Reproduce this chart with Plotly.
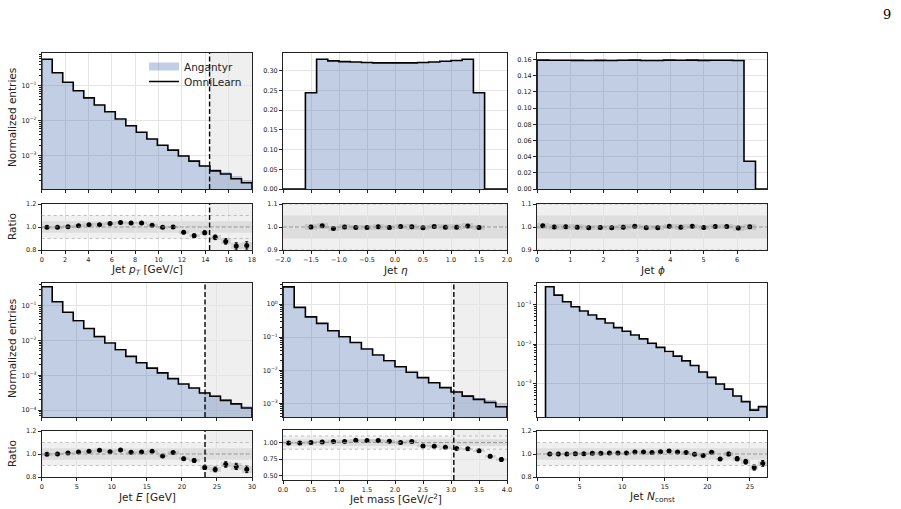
import numpy as np
import plotly.graph_objects as go

# ---------------- data ----------------
# Jet pT
pt_range = [0.0, 18.0]
pt_nbins = 20
pt_omnilearn = [0.57, 0.234, 0.125, 0.072, 0.045, 0.028, 0.018, 0.0112, 0.0072, 0.0047,
                0.0030, 0.0020, 0.00145, 0.00098, 0.00070, 0.00051, 0.00037, 0.00030, 0.00022, 0.00017]
pt_angantyr = [0.572, 0.235, 0.125, 0.0713, 0.0441, 0.0275, 0.0175, 0.0108, 0.00696, 0.00454,
               0.00296, 0.00201, 0.00145, 0.00103, 0.000757, 0.000537, 0.000407, 0.000343, 0.000263, 0.000202]
pt_ratio = [0.997, 0.997, 1.003, 1.010, 1.020, 1.020, 1.030, 1.040, 1.035, 1.035,
            1.015, 0.997, 1.000, 0.955, 0.925, 0.950, 0.910, 0.875, 0.835, 0.840]
pt_ratio_err = [0.003, 0.003, 0.003, 0.003, 0.004, 0.004, 0.005, 0.005, 0.006, 0.007,
                0.008, 0.009, 0.010, 0.013, 0.015, 0.017, 0.020, 0.024, 0.028, 0.032]
pt_cut = 14.37

# Jet eta
eta_range = [-2.0, 2.0]
eta_nbins = 20
eta_omnilearn = [0, 0, 0.244, 0.329, 0.325, 0.323, 0.322, 0.321, 0.320, 0.320,
                 0.320, 0.320, 0.321, 0.322, 0.324, 0.326, 0.329, 0.244, 0, 0]
eta_angantyr = [0, 0, 0.244, 0.327, 0.327, 0.323, 0.323, 0.322, 0.320, 0.321,
                0.319, 0.320, 0.322, 0.321, 0.324, 0.326, 0.328, 0.244, 0, 0]
eta_ratio = [1.000, 1.005, 0.994, 1.000, 0.998, 0.998, 1.001, 0.998,
             1.002, 1.001, 0.997, 1.002, 0.999, 0.999, 1.004, 0.998]
eta_ratio_err = [0.002] * 16

# Jet phi
phi_range = [0.0, 6.9]
phi_nbins = 20
phi_omnilearn = [0.1592, 0.1590, 0.1591, 0.1589, 0.1588, 0.1589, 0.1588, 0.1590, 0.1592, 0.1588,
                 0.1588, 0.1592, 0.1590, 0.1592, 0.1589, 0.1591, 0.1591, 0.1587, 0.0343, 0]
phi_angantyr = [0.1584, 0.1590, 0.1589, 0.1591, 0.1593, 0.1592, 0.1593, 0.1592, 0.1587, 0.1593,
                0.1593, 0.1587, 0.1592, 0.1587, 0.1592, 0.1588, 0.1588, 0.1593, 0.0343, 0]
phi_ratio = [1.005, 1.000, 1.001, 0.999, 0.997, 0.998, 0.997, 0.999, 1.003, 0.997,
             0.997, 1.003, 0.999, 1.003, 0.998, 1.002, 1.002, 0.996, 1.001]
phi_ratio_err = [0.002] * 18 + [0.004]

# Jet E
e_range = [0.0, 30.0]
e_nbins = 20
e_omnilearn = [0.35, 0.130, 0.065, 0.037, 0.022, 0.0129, 0.0085, 0.0054, 0.0035, 0.0023,
               0.0016, 0.00117, 0.00080, 0.00056, 0.00043, 0.00031, 0.00025, 0.00019, 0.000150, 0.000115]
e_angantyr = [0.351, 0.130, 0.0644, 0.0363, 0.0215, 0.0125, 0.00833, 0.00522, 0.00345, 0.00226,
              0.00156, 0.00119, 0.00079, 0.000584, 0.000456, 0.000351, 0.000289, 0.000209, 0.000168, 0.000132]
e_ratio = [0.997, 1.000, 1.009, 1.018, 1.023, 1.032, 1.020, 1.035, 1.015, 1.018,
           1.023, 0.982, 1.012, 0.959, 0.944, 0.883, 0.866, 0.909, 0.892, 0.868]
e_ratio_err = [0.003, 0.003, 0.003, 0.004, 0.004, 0.005, 0.005, 0.006, 0.007, 0.008,
               0.009, 0.010, 0.011, 0.013, 0.015, 0.018, 0.021, 0.024, 0.027, 0.030]
e_cut = 23.3

# Jet mass
m_range = [0.0, 4.0]
m_nbins = 20
m_omnilearn = [3.3, 0.79, 0.41, 0.26, 0.156, 0.103, 0.069, 0.044, 0.029, 0.0194,
               0.0128, 0.0087, 0.0060, 0.0042, 0.0030, 0.0022, 0.00166, 0.00132, 0.00107, 0.00079]
m_angantyr = [3.32, 0.794, 0.41, 0.257, 0.154, 0.101, 0.0667, 0.0427, 0.0282, 0.019,
              0.0128, 0.00857, 0.00632, 0.00444, 0.00323, 0.00242, 0.00183, 0.00151, 0.00135, 0.00106]
m_ratio = [0.995, 0.995, 1.000, 1.010, 1.015, 1.015, 1.035, 1.030, 1.030, 1.020,
           1.000, 1.015, 0.950, 0.945, 0.930, 0.910, 0.905, 0.875, 0.795, 0.745]
m_ratio_err = [0.003, 0.003, 0.003, 0.004, 0.004, 0.005, 0.005, 0.006, 0.006, 0.007,
               0.008, 0.009, 0.010, 0.011, 0.012, 0.014, 0.016, 0.020, 0.024, 0.026]
m_cut = 3.05

# Jet N_const
n_range = [1.0, 27.0]
n_nbins = 26
n_xlim = [0.0, 27.0]
n_omnilearn = [0.275, 0.17, 0.116, 0.087, 0.068, 0.054, 0.043, 0.034, 0.026, 0.021,
               0.017, 0.0135, 0.0105, 0.0083, 0.0065, 0.0050, 0.0038, 0.0029, 0.0020, 0.00146,
               0.0010, 0.00074, 0.00050, 0.00036, 0.00022, 0.00027]
n_angantyr = [0.275, 0.17, 0.116, 0.0867, 0.0678, 0.0537, 0.0427, 0.0337, 0.0258, 0.0208,
              0.0167, 0.0133, 0.0104, 0.00814, 0.00634, 0.00491, 0.00375, 0.00291, 0.00202, 0.00144,
              0.00105, 0.00074, 0.00052, 0.000386, 0.000249, 0.000294]
n_ratio = [1.000, 1.000, 1.000, 1.003, 1.003, 1.006, 1.006, 1.009, 1.009, 1.009,
           1.018, 1.018, 1.012, 1.020, 1.026, 1.018, 1.012, 0.997, 0.988, 1.015,
           0.956, 1.000, 0.959, 0.933, 0.882, 0.918]
n_ratio_err = [0.002, 0.002, 0.002, 0.002, 0.002, 0.003, 0.003, 0.003, 0.003, 0.004,
               0.004, 0.004, 0.005, 0.005, 0.006, 0.006, 0.007, 0.008, 0.009, 0.010,
               0.012, 0.015, 0.018, 0.020, 0.022, 0.025]

# ---------------- styling / layout ----------------
W, H = 901, 509
FILL = "rgba(76,114,176,0.35)"
BOX = "rgba(150,150,150,0.30)"
FONT = "DejaVu Sans"
TXT = "#222222"


def fx(p):
    return p / W


def fy(p):
    return 1 - p / H


cols = [(41.7, 252.0), (283.0, 507.0), (537.0, 767.0)]
main_rows = [(53.0, 189.0), (282.5, 417.0)]
ratio_rows = [(204.0, 250.0), (431.0, 477.0)]
title_rows = [270.0, 497.0]


def pow_text(e):
    return "10<sup>" + ("\u2212" if e < 0 else "") + str(abs(e)) + "</sup>"


def fmt(v, nd):
    s = f"{v:.{nd}f}"
    return s.replace("-", "\u2212")


panels = [
    dict(edges=np.linspace(pt_range[0], pt_range[1], pt_nbins + 1), ang=pt_angantyr, omni=pt_omnilearn,
         ratio=pt_ratio, rerr=pt_ratio_err, cut=pt_cut, xlim=pt_range, log=True, ylim=[-3.95, -0.066],
         ydec=[-3, -2, -1], rylim=[0.8, 1.2], rticks=[0.8, 1.0, 1.2], rnd=1,
         xticks=list(range(0, 19, 2)), xnd=0, col=0, row=0,
         xtitle="Jet <i>p</i><sub><i>T</i></sub> [GeV/<i>c</i>]"),
    dict(edges=np.linspace(eta_range[0], eta_range[1], eta_nbins + 1), ang=eta_angantyr, omni=eta_omnilearn,
         ratio=eta_ratio, rerr=eta_ratio_err, cut=None, xlim=eta_range, log=False, ylim=[0, 0.345],
         yticks=[0, 0.05, 0.10, 0.15, 0.20, 0.25, 0.30], ynd=2, rylim=[0.9, 1.1], rticks=[0.9, 1.0, 1.1], rnd=1,
         xticks=[-2.0, -1.5, -1.0, -0.5, 0.0, 0.5, 1.0, 1.5, 2.0], xnd=1, col=1, row=0,
         xtitle="Jet <i>\u03b7</i>"),
    dict(edges=np.linspace(phi_range[0], phi_range[1], phi_nbins + 1), ang=phi_angantyr, omni=phi_omnilearn,
         ratio=phi_ratio, rerr=phi_ratio_err, cut=None, xlim=phi_range, log=False, ylim=[0, 0.168],
         yticks=[0, 0.02, 0.04, 0.06, 0.08, 0.10, 0.12, 0.14, 0.16], ynd=2, rylim=[0.9, 1.1],
         rticks=[0.9, 1.0, 1.1], rnd=1, xticks=[0, 1, 2, 3, 4, 5, 6], xnd=0, col=2, row=0,
         xtitle="Jet <i>\u03d5</i>"),
    dict(edges=np.linspace(e_range[0], e_range[1], e_nbins + 1), ang=e_angantyr, omni=e_omnilearn,
         ratio=e_ratio, rerr=e_ratio_err, cut=e_cut, xlim=e_range, log=True, ylim=[-4.2, -0.333],
         ydec=[-4, -3, -2, -1], rylim=[0.8, 1.2], rticks=[0.8, 1.0, 1.2], rnd=1,
         xticks=[0, 5, 10, 15, 20, 25, 30], xnd=0, col=0, row=1,
         xtitle="Jet <i>E</i> [GeV]"),
    dict(edges=np.linspace(m_range[0], m_range[1], m_nbins + 1), ang=m_angantyr, omni=m_omnilearn,
         ratio=m_ratio, rerr=m_ratio_err, cut=m_cut, xlim=m_range, log=True, ylim=[-3.41, 0.65],
         ydec=[-3, -2, -1, 0], rylim=[0.435, 1.19], rticks=[0.5, 0.75, 1.0], rnd=2,
         xticks=[0.0, 0.5, 1.0, 1.5, 2.0, 2.5, 3.0, 3.5, 4.0], xnd=1, col=1, row=1,
         rrow=(430.0, 480.0), ttl=498.5, xtitle="Jet mass [GeV/<i>c</i><sup>2</sup>]"),
    dict(edges=np.linspace(n_range[0], n_range[1], n_nbins + 1), ang=n_angantyr, omni=n_omnilearn,
         ratio=n_ratio, rerr=n_ratio_err, cut=None, xlim=n_xlim, log=True, ylim=[-3.83, -0.453],
         ydec=[-3, -2, -1], rylim=[0.8, 1.2], rticks=[0.8, 1.0, 1.2], rnd=1,
         xticks=[0, 5, 10, 15, 20, 25], xnd=0, col=2, row=1,
         xtitle="Jet <i>N</i><sub>const</sub>"),
]

AX = dict(showline=True, linecolor=TXT, linewidth=1, mirror=True, ticks="outside", ticklen=3,
          tickwidth=0.8, tickcolor=TXT, showgrid=True, gridcolor="#e4e4e4", gridwidth=0.8,
          zeroline=False, automargin=False, tickfont=dict(family=FONT, size=6.5, color=TXT))

fig = go.Figure()
layout = {}
shapes = []
annotations = []


def aname(kind, n):
    return kind if n == 1 else f"{kind}{n}"


for i, p in enumerate(panels):
    m = 2 * i + 1
    r = 2 * i + 2
    mx, my, rx, ry = aname("x", m), aname("y", m), aname("x", r), aname("y", r)
    edges = p["edges"]
    centers = 0.5 * (edges[:-1] + edges[1:])
    bw = edges[1] - edges[0]
    ang = np.array(p["ang"], dtype=float)
    omni = np.array(p["omni"], dtype=float)

    # main histogram: Angantyr filled, OmniLearn step line
    fig.add_trace(go.Bar(x=centers, y=ang, width=bw, marker=dict(color=FILL, line=dict(width=0)),
                         xaxis=mx, yaxis=my, showlegend=False, hoverinfo="skip"))
    floor = 1e-12 if p["log"] else 0.0
    sx = np.concatenate([[edges[0]], edges[:-1], [edges[-1]]])
    sy = np.concatenate([[floor], omni, [floor]])
    fig.add_trace(go.Scatter(x=sx, y=sy, mode="lines", line=dict(color="black", width=1.6, shape="hv"),
                             xaxis=mx, yaxis=my, showlegend=False, hoverinfo="skip"))

    # ratio panel
    mask = ang > 0
    rc = centers[mask]
    ratio = np.array(p["ratio"], dtype=float)
    rerr = np.array(p["rerr"], dtype=float)
    box = np.maximum(rerr, 0.012 if p["rylim"][1] - p["rylim"][0] < 0.5 else 0.02)
    fig.add_trace(go.Bar(x=rc, y=2 * box, base=ratio - box, width=bw,
                         marker=dict(color=BOX, line=dict(width=0)),
                         xaxis=rx, yaxis=ry, showlegend=False, hoverinfo="skip"))
    fig.add_trace(go.Scatter(x=rc, y=ratio, mode="markers", marker=dict(color="black", size=5),
                             error_y=dict(type="data", array=rerr, color="black", thickness=1, width=1.5),
                             xaxis=rx, yaxis=ry, showlegend=False, hoverinfo="skip"))

    c0, c1 = cols[p["col"]]
    mt, mb = main_rows[p["row"]]
    rt, rb = p.get("rrow", ratio_rows[p["row"]])

    xticks = p["xticks"]
    xtext = [fmt(v, p["xnd"]) for v in xticks]
    layout[aname("xaxis", m)] = dict(AX, domain=[fx(c0), fx(c1)], range=p["xlim"], anchor=my,
                                     tickvals=xticks, showticklabels=False)
    layout[aname("xaxis", r)] = dict(AX, domain=[fx(c0), fx(c1)], range=p["xlim"], anchor=ry,
                                     tickvals=xticks, ticktext=xtext)
    if p["log"]:
        lo, hi = p["ylim"]
        majors = [10.0 ** d for d in p["ydec"]]
        minors = []
        for d in range(int(np.floor(lo)), int(np.ceil(hi)) + 1):
            for k in range(2, 10):
                v = k * 10.0 ** d
                if lo <= np.log10(v) <= hi:
                    minors.append(v)
        layout[aname("yaxis", m)] = dict(AX, domain=[fy(mb), fy(mt)], type="log", range=p["ylim"],
                                         anchor=mx, tickvals=majors,
                                         ticktext=[pow_text(d) for d in p["ydec"]],
                                         minor=dict(tickvals=minors, ticks="outside", ticklen=1.8,
                                                    tickwidth=0.6, tickcolor=TXT, showgrid=False))
    else:
        layout[aname("yaxis", m)] = dict(AX, domain=[fy(mb), fy(mt)], range=p["ylim"], anchor=mx,
                                         tickvals=p["yticks"],
                                         ticktext=[fmt(v, p["ynd"]) for v in p["yticks"]])
    layout[aname("yaxis", r)] = dict(AX, domain=[fy(rb), fy(rt)], range=p["rylim"], anchor=rx,
                                     tickvals=p["rticks"], ticktext=[fmt(v, p["rnd"]) for v in p["rticks"]])

    # excluded region, ratio bands and reference lines
    if p["cut"] is not None:
        for ax_x, ax_y in ((mx, my), (rx, ry)):
            shapes.append(dict(type="rect", xref=ax_x, yref=f"{ax_y} domain", x0=p["cut"], x1=p["xlim"][1],
                               y0=0, y1=1, fillcolor="#efefef", line=dict(width=0), layer="below"))
    shapes.append(dict(type="rect", xref=f"{rx} domain", yref=ry, x0=0, x1=1, y0=0.9, y1=1.1,
                       fillcolor="#f0f0f0", line=dict(width=0), layer="below"))
    shapes.append(dict(type="rect", xref=f"{rx} domain", yref=ry, x0=0, x1=1, y0=0.95, y1=1.05,
                       fillcolor="#dedede", line=dict(width=0), layer="below"))
    shapes.append(dict(type="line", xref=f"{rx} domain", yref=ry, x0=0, x1=1, y0=1.0, y1=1.0,
                       line=dict(color="#8a8a8a", width=0.9, dash="4px,2px"), layer="above"))
    for yv in (0.9, 1.1):
        shapes.append(dict(type="line", xref=f"{rx} domain", yref=ry, x0=0, x1=1, y0=yv, y1=yv,
                           line=dict(color="#b0b0b0", width=0.8, dash="dot"), layer="above"))
    if p["cut"] is not None:
        for ax_x, ax_y in ((mx, my), (rx, ry)):
            shapes.append(dict(type="line", xref=ax_x, yref=f"{ax_y} domain", x0=p["cut"], x1=p["cut"],
                               y0=0, y1=1, line=dict(color="black", width=1.4, dash="5px,2.5px"),
                               layer="above"))

    # x-axis title
    ty = p.get("ttl", title_rows[p["row"]])
    annotations.append(dict(text=p["xtitle"], xref="paper", yref="paper", x=fx(0.5 * (c0 + c1)),
                            y=fy(ty), xanchor="center", yanchor="middle", showarrow=False,
                            font=dict(family=FONT, size=10.5, color=TXT)))

# y-axis titles
for yc, txt in ((118, "Normalized entries"), (227, "Ratio"), (349, "Normalized entries"), (454, "Ratio")):
    annotations.append(dict(text=txt, xref="paper", yref="paper", x=fx(12), y=fy(yc), textangle=-90,
                            xanchor="center", yanchor="middle", showarrow=False,
                            font=dict(family=FONT, size=10.5, color=TXT)))

# page number
annotations.append(dict(text="9", xref="paper", yref="paper", x=fx(887), y=fy(15), showarrow=False,
                        xanchor="center", yanchor="middle",
                        font=dict(family="DejaVu Serif", size=13, color="black")))

# legend entries (each in its own legend box for exact spacing)
fig.add_trace(go.Scatter(x=[None], y=[None], mode="lines", line=dict(color=FILL, width=8),
                         name="Angantyr", xaxis="x", yaxis="y", legend="legend"))
fig.add_trace(go.Scatter(x=[None], y=[None], mode="lines", line=dict(color="black", width=1.5),
                         name="OmniLearn", xaxis="x", yaxis="y", legend="legend2"))

LEG = dict(xanchor="left", yanchor="top", bgcolor="rgba(0,0,0,0)",
           font=dict(family=FONT, size=10.5, color=TXT), tracegroupgap=0, itemwidth=30)

fig.update_layout(
    width=W, height=H, margin=dict(l=0, r=0, t=0, b=0, autoexpand=False),
    paper_bgcolor="white", plot_bgcolor="white", barmode="overlay", bargap=0,
    shapes=shapes, annotations=annotations,
    legend=dict(LEG, x=fx(144), y=fy(52)),
    legend2=dict(LEG, x=fx(144), y=fy(67)),
    showlegend=True,
    **layout,
)

fig.write_html("out.html")
